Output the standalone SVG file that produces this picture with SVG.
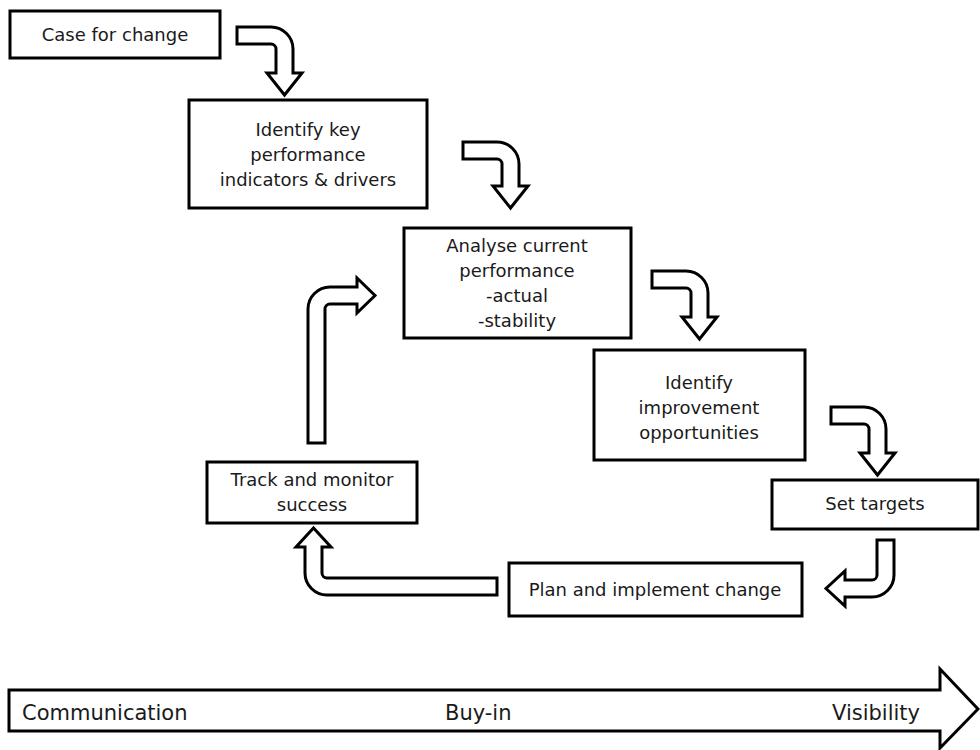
<svg xmlns="http://www.w3.org/2000/svg" width="980" height="750" viewBox="0 0 980 750">
<style>
  .box { fill: #ffffff; stroke: #000000; stroke-width: 3; }
  .arr { fill: #ffffff; stroke: #000000; stroke-width: 3; stroke-linejoin: miter; }
  .t { font-family: "DejaVu Sans", "Liberation Sans", sans-serif; font-size: 18px; fill: #1a1a1a; text-anchor: middle; }
  .b { font-family: "DejaVu Sans", "Liberation Sans", sans-serif; font-size: 21px; fill: #1a1a1a; }
</style>
<rect width="980" height="750" fill="#ffffff"/>

<g id="connectors">
  <path class="arr" d="M237,27 H271 A22,22 0 0 1 293,49 V73 H302 L284.5,95 L267,73 H276 V49 A5,5 0 0 0 271,44 H237 Z"/>
  <path class="arr" d="M463,142 H497 A22,22 0 0 1 519,164 V186 H528 L510.5,208 L493,186 H502 V164 A5,5 0 0 0 497,159 H463 Z"/>
  <path class="arr" d="M652,271 H686 A22,22 0 0 1 708,293 V317 H717 L699.5,339 L682,317 H691 V293 A5,5 0 0 0 686,288 H652 Z"/>
  <path class="arr" d="M831,407 H864 A22,22 0 0 1 886,429 V453 H895 L877.5,475 L860,453 H869 V429 A5,5 0 0 0 864,424 H831 Z"/>
  <path class="arr" d="M877,540 H894 V575 A22,22 0 0 1 872,597 H845 V606 L826,588.5 L845,571 V580 H872 A5,5 0 0 0 877,575 Z"/>
  <path class="arr" d="M497,578 V595 H327 A22,22 0 0 1 305,573 V547 H296 L313.5,528 L331,547 H322 V573 A5,5 0 0 0 327,578 Z"/>
  <path class="arr" d="M308,443 V309 A22,22 0 0 1 330,287 H357 V278 L375,295.5 L357,313 V304 H330 A5,5 0 0 0 325,309 V443 Z"/>
</g>

<g id="case-for-change">
  <rect class="box" x="10" y="11" width="210" height="47"/>
  <text class="t" x="115" y="41">Case for change</text>
</g>

<g id="identify-kpis">
  <rect class="box" x="189" y="100" width="238" height="108"/>
  <text class="t" x="308" y="136">Identify key</text>
  <text class="t" x="308" y="161">performance</text>
  <text class="t" x="308" y="186">indicators &amp; drivers</text>
</g>

<g id="analyse-performance">
  <rect class="box" x="404" y="228" width="227" height="110"/>
  <text class="t" x="517" y="252">Analyse current</text>
  <text class="t" x="517" y="277">performance</text>
  <text class="t" x="517" y="302">-actual</text>
  <text class="t" x="517" y="327">-stability</text>
</g>

<g id="identify-improvement">
  <rect class="box" x="594" y="350" width="211" height="110"/>
  <text class="t" x="699" y="389">Identify</text>
  <text class="t" x="699" y="414">improvement</text>
  <text class="t" x="699" y="439">opportunities</text>
</g>

<g id="set-targets">
  <rect class="box" x="772" y="480" width="206" height="49"/>
  <text class="t" x="875" y="510">Set targets</text>
</g>

<g id="plan-implement">
  <rect class="box" x="509" y="563" width="293" height="53"/>
  <text class="t" x="655" y="596">Plan and implement change</text>
</g>

<g id="track-monitor">
  <rect class="box" x="207" y="462" width="210" height="61"/>
  <text class="t" x="312" y="486">Track and monitor</text>
  <text class="t" x="312" y="511">success</text>
</g>

<g id="timeline">
  <path class="arr" d="M9,690 H940 V669 L978,709 L940,748 V731 H9 Z"/>
  <text class="b" x="22" y="720">Communication</text>
  <text class="b" x="445" y="720">Buy-in</text>
  <text class="b" x="832" y="720">Visibility</text>
</g>
</svg>
